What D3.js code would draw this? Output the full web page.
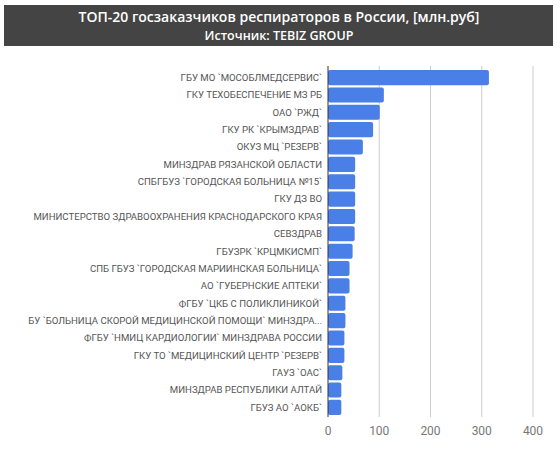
<!DOCTYPE html>
<html><head><meta charset="utf-8">
<script src="https://d3js.org/d3.v7.min.js"></script>
<style>body{margin:0;background:#fff;font-family:Roboto,sans-serif}</style>
</head><body><div id="chart"></div>
<script>
const categories = [
  "ГБУ МО `МОСОБЛМЕДСЕРВИС`","ГКУ ТЕХОБЕСПЕЧЕНИЕ МЗ РБ","ОАО `РЖД`","ГКУ РК `КРЫМЗДРАВ`",
  "ОКУЗ МЦ `РЕЗЕРВ`","МИНЗДРАВ РЯЗАНСКОЙ ОБЛАСТИ","СПБГБУЗ `ГОРОДСКАЯ БОЛЬНИЦА №15`","ГКУ ДЗ ВО",
  "МИНИСТЕРСТВО ЗДРАВООХРАНЕНИЯ КРАСНОДАРСКОГО КРАЯ","СЕВЗДРАВ","ГБУЗРК `КРЦМКИСМП`",
  "СПБ ГБУЗ `ГОРОДСКАЯ МАРИИНСКАЯ БОЛЬНИЦА`","АО `ГУБЕРНСКИЕ АПТЕКИ`","ФГБУ `ЦКБ С ПОЛИКЛИНИКОЙ`",
  "БУ `БОЛЬНИЦА СКОРОЙ МЕДИЦИНСКОЙ ПОМОЩИ` МИНЗДРА...","ФГБУ `НМИЦ КАРДИОЛОГИИ` МИНЗДРАВА РОССИИ",
  "ГКУ ТО `МЕДИЦИНСКИЙ ЦЕНТР `РЕЗЕРВ`","ГАУЗ `ОАС`","МИНЗДРАВ РЕСПУБЛИКИ АЛТАЙ","ГБУЗ АО `АОКБ`"
];
const values = [314,109,101,88,68,53,53,53,53,52,48,42,42,34,34,32,32,28,26,26];
const ticks = [0,100,200,300,400];

const W = 560, H = 457;
const svg = d3.select('#chart').append('svg').attr('width', W).attr('height', H);

// Title block
svg.append('rect').attr('x',4).attr('y',5).attr('width',549).attr('height',41).attr('fill','#444444');
svg.append('text').attr('x',279).attr('y',22).attr('text-anchor','middle').attr('fill','#fff')
  .style('font-size','14px').style('font-weight','600').style('font-family','"Open Sans", sans-serif')
  .text('ТОП-20 госзаказчиков респираторов в России, [млн.руб]');
svg.append('text').attr('x',279).attr('y',40).attr('text-anchor','middle').attr('fill','#fff')
  .style('font-size','12.5px').style('font-weight','600').style('font-family','"Open Sans", sans-serif')
  .text('Источник: TEBIZ GROUP');

const x = d3.scaleLinear().domain([0,400]).range([328,533]);
const y = d3.scaleBand().domain(categories).range([69,416]).paddingInner(0.13).paddingOuter(0.06);

// grid
svg.append('g').selectAll('line').data(ticks.slice(1)).join('line')
  .attr('x1',d=>x(d)).attr('x2',d=>x(d)).attr('y1',66).attr('y2',417)
  .attr('stroke','#cccccc');

svg.append('g').selectAll('rect').data(values).join('rect')
  .attr('x',x(0)).attr('y',(d,i)=>y(categories[i]))
  .attr('width',d=>x(d)-x(0)).attr('height',y.bandwidth())
  .attr('rx',2).attr('fill','#4a7fe8');

svg.append('line').attr('x1',x(0)).attr('x2',x(0)).attr('y1',66).attr('y2',417).attr('stroke','#333');

svg.append('g').selectAll('text').data(categories).join('text')
  .attr('x',322).attr('y',d=>y(d)+y.bandwidth()/2).attr('dy','0.35em')
  .attr('text-anchor','end').attr('fill','#555').style('font-size','9.6px').text(d=>d);

svg.append('g').selectAll('text').data(ticks).join('text')
  .attr('x',d=>x(d)).attr('y',435).attr('text-anchor','middle').attr('fill','#777')
  .style('font-size','12px').text(d=>d);
</script></body></html>
